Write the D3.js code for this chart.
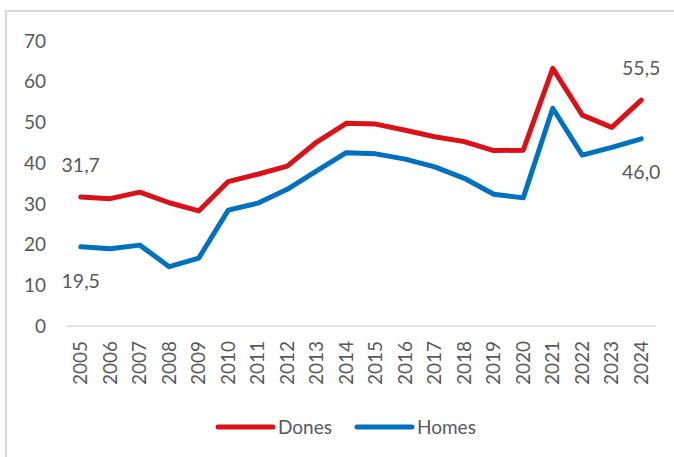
<!DOCTYPE html>
<html>
<head>
    <meta charset="utf-8">
    <title></title>
    <script src="https://cdn.jsdelivr.net/npm/d3@7"></script>
    <style>
        body { margin: 0; background: #fff; }
        text { font-family: Lato, "Open Sans", sans-serif; fill: #595959; }
    </style>
</head>
<body>
<div id="drawArea"></div>

<script>
    var years = ["2005", "2006", "2007", "2008", "2009", "2010", "2011", "2012", "2013", "2014",
                 "2015", "2016", "2017", "2018", "2019", "2020", "2021", "2022", "2023", "2024"];
    var dones = [31.7, 31.3, 32.9, 30.3, 28.3, 35.5, 37.3, 39.3, 45.2, 49.8,
                 49.6, 48.1, 46.5, 45.3, 43.1, 43.2, 63.3, 51.8, 48.8, 55.5];
    var homes = [19.5, 19.0, 19.9, 14.6, 16.7, 28.5, 30.2, 33.6, 38.1, 42.6,
                 42.3, 41.0, 39.1, 36.3, 32.4, 31.5, 53.5, 42.0, 43.9, 46.0];
    var yTicks = [0, 10, 20, 30, 40, 50, 60, 70];
    var seriesNames = ["Dones", "Homes"];
    var seriesColors = ["#dc1118", "#0070c0"];

    var width = 674, height = 457;
    var svg = d3.select("#drawArea").append("svg")
        .attr("width", width)
        .attr("height", height);

    // chart frame (only left and top edges are in view)
    svg.append("path")
        .attr("d", "M6,457 L6,11 L674,11")
        .attr("fill", "none")
        .attr("stroke", "#d9d9d9")
        .attr("stroke-width", 2);

    var x = d3.scaleBand().domain(years).range([66, 656]);
    var y = d3.scaleLinear().domain([0, 70]).range([326.2, 41]);

    // y labels
    svg.append("g").selectAll("text")
        .data(yTicks)
        .enter().append("text")
        .attr("x", 46)
        .attr("y", function (d) { return y(d); })
        .attr("dy", "0.35em")
        .attr("text-anchor", "end")
        .attr("font-size", "19px")
        .text(function (d) { return d; });

    // base line
    svg.append("line")
        .attr("x1", 66).attr("x2", 656)
        .attr("y1", y(0)).attr("y2", y(0))
        .attr("stroke", "#d9d9d9")
        .attr("stroke-width", 1.5);

    // x labels, rotated
    svg.append("g").selectAll("text")
        .data(years)
        .enter().append("text")
        .attr("transform", function (d) {
            return "translate(" + (x(d) + x.bandwidth() / 2) + ",341) rotate(-90)";
        })
        .attr("dy", "0.35em")
        .attr("text-anchor", "end")
        .attr("font-size", "19px")
        .text(function (d) { return d; });

    var line = d3.line()
        .x(function (d, i) { return x(years[i]) + x.bandwidth() / 2; })
        .y(function (d) { return y(d); });

    [dones, homes].forEach(function (s, k) {
        svg.append("path")
            .datum(s)
            .attr("d", line)
            .attr("fill", "none")
            .attr("stroke", seriesColors[k])
            .attr("stroke-width", 5)
            .attr("stroke-linejoin", "round")
            .attr("stroke-linecap", "round");
    });

    // value labels at first and last points
    function fmt(v) { return v.toFixed(1).replace(".", ","); }
    var last = years.length - 1;
    var labels = [
        { i: 0, v: dones[0], off: -32 },
        { i: last, v: dones[last], off: -32 },
        { i: 0, v: homes[0], off: 34 },
        { i: last, v: homes[last], off: 33 }
    ];
    svg.append("g").selectAll("text")
        .data(labels)
        .enter().append("text")
        .attr("x", function (d) { return x(years[d.i]) + x.bandwidth() / 2; })
        .attr("y", function (d) { return y(d.v) + d.off; })
        .attr("dy", "0.35em")
        .attr("text-anchor", "middle")
        .attr("font-size", "19.5px")
        .text(function (d) { return fmt(d.v); });

    // legend
    var legendX = [218, 357];
    seriesNames.forEach(function (name, k) {
        svg.append("line")
            .attr("x1", legendX[k]).attr("x2", legendX[k] + 55)
            .attr("y1", 427).attr("y2", 427)
            .attr("stroke", seriesColors[k])
            .attr("stroke-width", 5)
            .attr("stroke-linecap", "round");
        svg.append("text")
            .attr("x", legendX[k] + 60)
            .attr("y", 427)
            .attr("dy", "0.35em")
            .attr("font-size", "19px")
            .text(name);
    });
</script>
</body>
</html>
